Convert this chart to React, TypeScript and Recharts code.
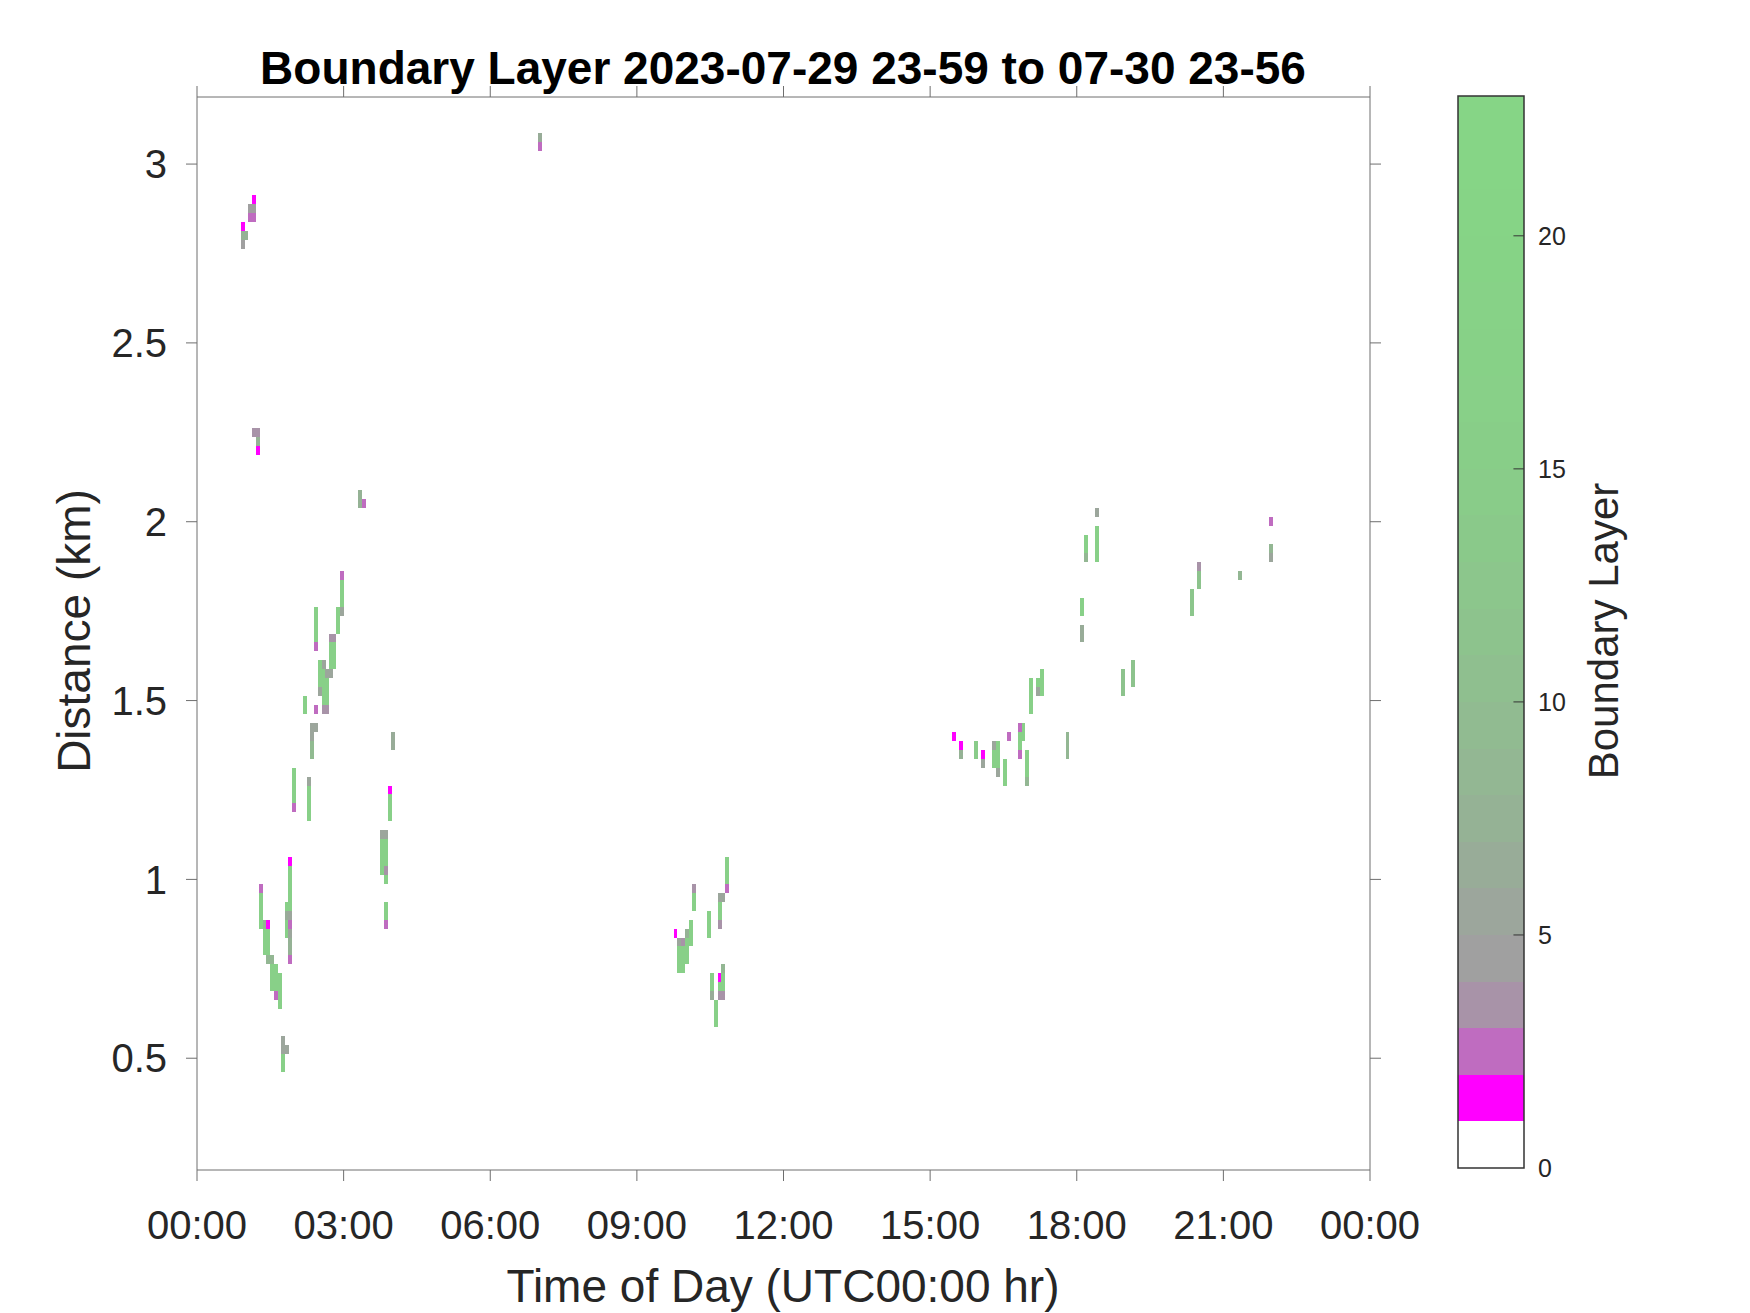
import { ReferenceArea, ReferenceLine, ScatterChart, XAxis, YAxis } from "recharts";

// [hour, lowest cell km, highest cell km, colour index]
type Run = [number, number, number, number];

const hourTicks = [0, 3, 6, 9, 12, 15, 18, 21, 24];
const kmTicks = [0.5, 1, 1.5, 2, 2.5, 3];
const levelTicks = [0, 5, 10, 15, 20];
const levelMax = 23;

// one colour per unit of the colour bar, 0..23
const colormap = [
  "#ffffff", "#ff00ff", "#bf6cc0", "#a893a8", "#a0a0a0", "#9ca69c",
  "#98ac98", "#95b295", "#93b793", "#91bb91", "#8fbf8f", "#8dc38d",
  "#8cc68c", "#8ac98a", "#89cc89", "#88ce88", "#88d088", "#87d187",
  "#87d287", "#86d386", "#86d486", "#86d586", "#86d586",
];

const upperRuns: Run[] = [
  [0.94, 2.775, 2.775, 4], [0.94, 2.8, 2.8, 7], [0.94, 2.825, 2.825, 1],
  [1.01, 2.8, 2.8, 7],
  [1.09, 2.85, 2.85, 2], [1.09, 2.875, 2.875, 4],
  [1.17, 2.85, 2.85, 2], [1.17, 2.875, 2.875, 4], [1.17, 2.9, 2.9, 1],
  [1.17, 2.25, 2.25, 3],
  [1.24, 2.25, 2.25, 3], [1.24, 2.225, 2.225, 7], [1.24, 2.2, 2.2, 1],
  [3.34, 2.05, 2.075, 7], [3.42, 2.05, 2.05, 2],
  [7.02, 3.05, 3.05, 2], [7.02, 3.075, 3.075, 6],
];

const nightRuns: Run[] = [
  [1.31, 0.875, 0.95, 16], [1.31, 0.975, 0.975, 2],
  [1.39, 0.8, 0.85, 16], [1.39, 0.875, 0.875, 7],
  [1.46, 0.775, 0.775, 8], [1.46, 0.8, 0.85, 16], [1.46, 0.875, 0.875, 1],
  [1.53, 0.7, 0.75, 16], [1.53, 0.775, 0.775, 8],
  [1.62, 0.675, 0.675, 2], [1.62, 0.7, 0.75, 16],
  [1.69, 0.65, 0.725, 16],
  [1.76, 0.475, 0.5, 16], [1.76, 0.525, 0.55, 5],
  [1.84, 0.525, 0.525, 5], [1.84, 0.85, 0.875, 16], [1.84, 0.9, 0.9, 6], [1.84, 0.925, 0.925, 16],
  [1.91, 0.775, 0.775, 2], [1.91, 0.8, 0.825, 7], [1.91, 0.85, 0.85, 5], [1.91, 0.875, 0.875, 2],
  [1.91, 0.9, 0.9, 5], [1.91, 0.925, 1.025, 16], [1.91, 1.05, 1.05, 1],
  [1.98, 1.2, 1.2, 2], [1.98, 1.225, 1.3, 16],
  [2.21, 1.475, 1.5, 16],
  [2.29, 1.175, 1.25, 16], [2.29, 1.275, 1.275, 5],
  [2.36, 1.35, 1.375, 9], [2.36, 1.4, 1.425, 5],
  [2.43, 1.425, 1.425, 5], [2.43, 1.475, 1.475, 2], [2.43, 1.65, 1.65, 2], [2.43, 1.675, 1.75, 16],
  [2.52, 1.525, 1.525, 5], [2.52, 1.55, 1.6, 16],
  [2.59, 1.475, 1.475, 3], [2.59, 1.5, 1.575, 16], [2.59, 1.6, 1.6, 5],
  [2.66, 1.475, 1.475, 3], [2.66, 1.5, 1.55, 16], [2.66, 1.575, 1.575, 5],
  [2.74, 1.575, 1.575, 5], [2.74, 1.6, 1.65, 16], [2.74, 1.675, 1.675, 3],
  [2.81, 1.6, 1.65, 16], [2.81, 1.675, 1.675, 3],
  [2.88, 1.7, 1.75, 16],
  [2.97, 1.75, 1.75, 5], [2.97, 1.775, 1.825, 16], [2.97, 1.85, 1.85, 2],
  [3.79, 1.025, 1.1, 16], [3.79, 1.125, 1.125, 5],
  [3.87, 0.875, 0.875, 2], [3.87, 0.9, 0.925, 16], [3.87, 1.0, 1.0, 16], [3.87, 1.025, 1.025, 3],
  [3.87, 1.05, 1.1, 16], [3.87, 1.125, 1.125, 5],
  [3.94, 1.175, 1.225, 16], [3.94, 1.25, 1.25, 1],
  [4.01, 1.375, 1.4, 6],
];

const morningRuns: Run[] = [
  [9.79, 0.85, 0.85, 1],
  [9.86, 0.75, 0.8, 16], [9.86, 0.825, 0.825, 5],
  [9.94, 0.75, 0.8, 16], [9.94, 0.825, 0.825, 3],
  [10.03, 0.775, 0.825, 16], [10.03, 0.85, 0.85, 7],
  [10.1, 0.825, 0.875, 16],
  [10.17, 0.925, 0.95, 16], [10.17, 0.975, 0.975, 3],
  [10.47, 0.85, 0.9, 16],
  [10.54, 0.675, 0.675, 6], [10.54, 0.7, 0.725, 16],
  [10.62, 0.6, 0.65, 16],
  [10.7, 0.675, 0.675, 3], [10.7, 0.7, 0.7, 16], [10.7, 0.725, 0.725, 1],
  [10.7, 0.875, 0.875, 3], [10.7, 0.9, 0.925, 16], [10.7, 0.95, 0.95, 5],
  [10.77, 0.675, 0.675, 3], [10.77, 0.7, 0.725, 16], [10.77, 0.75, 0.75, 8], [10.77, 0.95, 0.95, 5],
  [10.84, 0.975, 0.975, 2], [10.84, 1.0, 1.05, 16],
];

const afternoonRuns: Run[] = [
  [15.49, 1.4, 1.4, 1],
  [15.63, 1.35, 1.35, 7], [15.63, 1.375, 1.375, 1],
  [15.94, 1.35, 1.375, 14],
  [16.08, 1.325, 1.325, 5], [16.08, 1.35, 1.35, 1],
  [16.31, 1.325, 1.35, 16], [16.31, 1.375, 1.375, 5],
  [16.39, 1.3, 1.3, 5], [16.39, 1.325, 1.375, 16],
  [16.53, 1.275, 1.325, 16],
  [16.61, 1.4, 1.4, 2],
  [16.84, 1.35, 1.35, 2], [16.84, 1.375, 1.4, 16], [16.84, 1.425, 1.425, 2],
  [16.91, 1.4, 1.425, 16],
  [16.98, 1.275, 1.275, 8], [16.98, 1.3, 1.35, 16],
  [17.06, 1.475, 1.55, 16],
  [17.21, 1.525, 1.525, 5], [17.21, 1.55, 1.55, 16],
  [17.29, 1.525, 1.575, 16],
  [17.81, 1.35, 1.4, 8],
];

const eveningRuns: Run[] = [
  [18.11, 1.675, 1.7, 6], [18.11, 1.75, 1.775, 16],
  [18.19, 1.9, 1.9, 8], [18.19, 1.925, 1.95, 16],
  [18.41, 1.9, 1.975, 16], [18.41, 2.025, 2.025, 5],
  [18.94, 1.525, 1.575, 11],
  [19.16, 1.55, 1.6, 11],
  [20.36, 1.75, 1.8, 12],
  [20.51, 1.825, 1.85, 11], [20.51, 1.875, 1.875, 3],
  [21.34, 1.85, 1.85, 8],
  [21.97, 1.9, 1.9, 5], [21.97, 1.925, 1.925, 8], [21.97, 2.0, 2.0, 2],
];

const runs = [...upperRuns, ...nightRuns, ...morningRuns, ...afternoonRuns, ...eveningRuns];
const DT = 0.08; // column width, hours
const DH = 0.025; // range gate, km

const font = "'Liberation Sans', Arial, Helvetica, sans-serif";
const axisGrey = "#6e6e6e";
const textDark = "#262626";

const fmtHour = (h: number) => `${String(h % 24).padStart(2, "0")}:00`;
const noLabel = () => "";

function MainPlot() {
  return (
    <ScatterChart width={1450} height={1313} margin={{ top: 96, right: 0, bottom: 0, left: 0 }}>
      <XAxis
        xAxisId="b"
        type="number"
        dataKey="x"
        domain={[0, 24]}
        ticks={hourTicks}
        interval={0}
        allowDataOverflow
        tickFormatter={fmtHour}
        height={143}
        tickSize={11}
        tickMargin={30}
        stroke={axisGrey}
        tick={{ fill: textDark, fontSize: 40 }}
      />
      <XAxis
        xAxisId="t"
        orientation="top"
        type="number"
        dataKey="x"
        domain={[0, 24]}
        ticks={hourTicks}
        interval={0}
        allowDataOverflow
        height={1}
        tickSize={11}
        tickFormatter={noLabel}
        stroke={axisGrey}
        tick={{ fontSize: 1 }}
      />
      <YAxis
        yAxisId="l"
        type="number"
        dataKey="y"
        domain={[0.1875, 3.1875]}
        ticks={kmTicks}
        interval={0}
        allowDataOverflow
        width={197}
        tickSize={11}
        tickMargin={19}
        stroke={axisGrey}
        tick={{ fill: textDark, fontSize: 40 }}
      />
      <YAxis
        yAxisId="r"
        orientation="right"
        type="number"
        dataKey="y"
        domain={[0.1875, 3.1875]}
        ticks={kmTicks}
        interval={0}
        allowDataOverflow
        width={80}
        tickSize={11}
        tickFormatter={noLabel}
        stroke={axisGrey}
        tick={{ fontSize: 1 }}
      />
      {runs.map(([h, lo, hi, lv], i) => (
        <ReferenceArea
          key={i}
          xAxisId="b"
          yAxisId="l"
          x1={h - DT / 2}
          x2={h + DT / 2}
          y1={lo - DH / 2}
          y2={hi + DH / 2}
          fill={colormap[lv]}
          fillOpacity={1}
          stroke="none"
          shapeRendering="crispEdges"
        />
      ))}
    </ScatterChart>
  );
}

function ColorBar() {
  return (
    <ScatterChart width={300} height={1313} margin={{ top: 96, right: 0, bottom: 145, left: 58 }}>
      <XAxis xAxisId="c" type="number" dataKey="x" domain={[0, 1]} hide allowDataOverflow />
      <YAxis
        yAxisId="c"
        orientation="right"
        type="number"
        dataKey="y"
        domain={[0, levelMax]}
        ticks={levelTicks}
        interval={0}
        allowDataOverflow
        width={176}
        axisLine={false}
        tickLine={false}
        tickSize={0}
        tickMargin={14}
        tick={{ fill: textDark, fontSize: 25 }}
      />
      {colormap.map((c, i) => (
        <ReferenceArea
          key={i}
          xAxisId="c"
          yAxisId="c"
          x1={0}
          x2={1}
          y1={i}
          y2={i + 1}
          fill={c}
          fillOpacity={1}
          stroke="none"
          shapeRendering="crispEdges"
        />
      ))}
      {levelTicks.slice(1).map((v) => (
        <ReferenceLine
          key={v}
          xAxisId="c"
          yAxisId="c"
          segment={[{ x: 0.84, y: v }, { x: 1, y: v }]}
          stroke="#333333"
          strokeWidth={1}
        />
      ))}
      <ReferenceArea
        xAxisId="c"
        yAxisId="c"
        x1={0}
        x2={1}
        y1={0}
        y2={levelMax}
        fill="none"
        stroke="#333333"
        strokeWidth={1.5}
      />
    </ScatterChart>
  );
}

export default function App() {
  return (
    <div
      style={{
        position: "absolute",
        left: 0,
        top: 0,
        width: 1750,
        height: 1313,
        background: "#ffffff",
        fontFamily: font,
      }}
    >
      <div style={{ position: "absolute", left: 0, top: 0 }}>
        <MainPlot />
      </div>
      <div style={{ position: "absolute", left: 1400, top: 0 }}>
        <ColorBar />
      </div>
      <svg
        width={1750}
        height={1313}
        style={{ position: "absolute", left: 0, top: 0, pointerEvents: "none" }}
      >
        <text x={783} y={84} textAnchor="middle" fontSize={46} fontWeight="bold" fill="#000000">
          Boundary Layer 2023-07-29 23-59 to 07-30 23-56
        </text>
        <text x={783} y={1302} textAnchor="middle" fontSize={46} fill={textDark}>
          Time of Day (UTC00:00 hr)
        </text>
        <text transform="translate(90,631) rotate(-90)" textAnchor="middle" fontSize={46} fill={textDark}>
          Distance (km)
        </text>
        <text transform="translate(1618,631) rotate(-90)" textAnchor="middle" fontSize={42} fill={textDark}>
          Boundary Layer
        </text>
      </svg>
    </div>
  );
}
